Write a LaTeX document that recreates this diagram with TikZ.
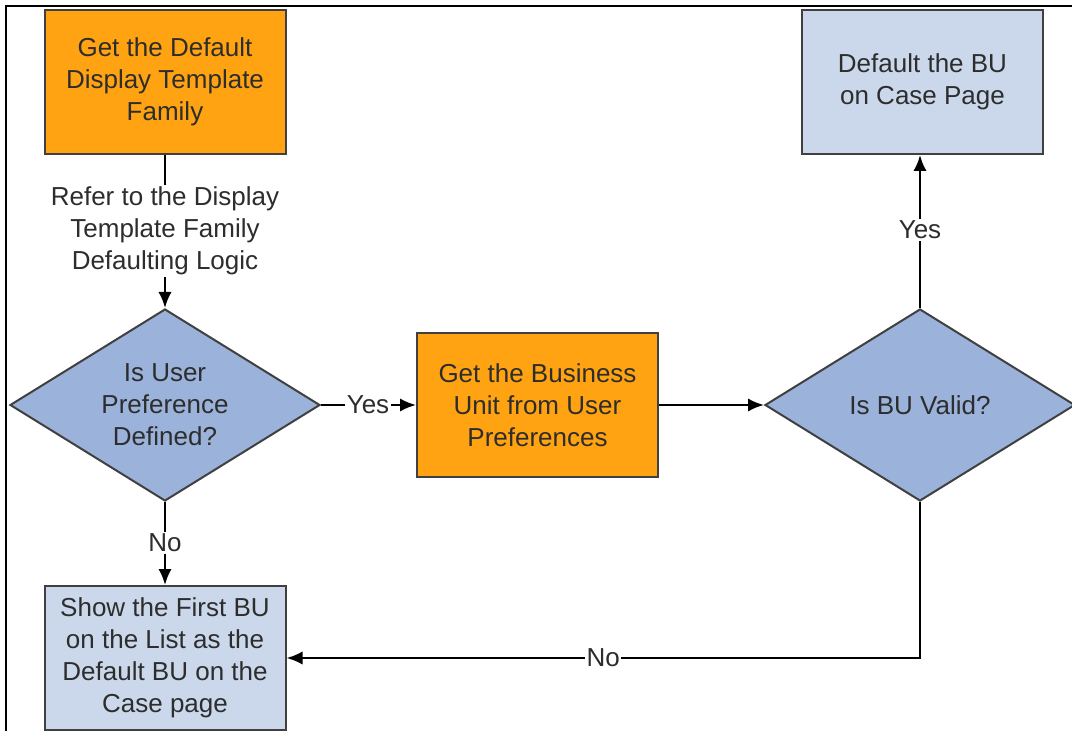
\documentclass[tikz,border=0pt]{standalone}
\usepackage{fontspec}
\setmainfont{Liberation Sans}
\usetikzlibrary{shapes.geometric,arrows.meta}
\definecolor{orangefill}{RGB}{255,163,18}
\definecolor{lightbox}{RGB}{203,216,235}
\definecolor{diafill}{RGB}{155,178,218}
\definecolor{edgegray}{RGB}{64,64,64}
\definecolor{textgray}{RGB}{45,45,45}
\begin{document}
\begin{tikzpicture}[x=0.75pt,y=-0.75pt,
  every node/.style={font=\fontsize{19.5}{24}\selectfont, text=textgray, align=center},
  box/.style={draw=edgegray, line width=1.5pt, minimum width=180.75pt, minimum height=108pt, inner sep=2pt},
  orangebox/.style={box, fill=orangefill},
  bluebox/.style={box, fill=lightbox},
  decision/.style={diamond, draw=edgegray, line width=1.5pt, fill=diafill, aspect=1.6, inner sep=0pt, minimum width=232.5pt, minimum height=144pt},
  lbl/.style={inner sep=1pt},
  conn/.style={line width=1.9pt, draw=black},
  arr/.style={conn, -{Latex[length=12pt,width=10pt]}}
]
\useasboundingbox (0,0) rectangle (1072,731);
\fill[white] (0,0) rectangle (1072,731);
\draw[line width=1.2pt] (6,731) -- (6,6) -- (1072,6);

\node[orangebox] (b1) at (165,82) {Get the Default\\Display Template\\Family};
\node[lbl] (refer) at (165,231) {Refer to the Display\\Template Family\\Defaulting Logic};
\node[decision] (d1) at (165,405) {Is User\\Preference\\Defined?};
\node[orangebox] (b2) at (537.5,405) {Get the Business\\Unit from User\\Preferences};
\node[decision] (d2) at (920,405) {Is BU Valid?};
\node[bluebox] (b3) at (922.5,82) {Default the BU\\on Case Page};
\node[bluebox] (b4) at (165,658) {Show the First BU\\on the List as the\\Default BU on the\\Case page};

\node[lbl] (yes1) at (368,405) {Yes};
\node[lbl] (no1) at (165,543) {No};
\node[lbl] (yes2) at (920,230) {Yes};

\draw[conn] (b1.south) -- (refer.north);
\draw[arr] (refer.south) -- (d1.north);
\draw[conn] (d1.east) -- (yes1.west);
\draw[arr] (yes1.east) -- (b2.west);
\draw[arr] (b2.east) -- (d2.west);
\draw[conn] (d2.north) -- (yes2.south);
\draw[arr] (yes2.north) -- (yes2.north |- b3.south);
\draw[conn] (d1.south) -- (no1.north);
\draw[arr] (no1.south) -- (b4.north);
\draw[arr] (d2.south) |- node[pos=0.75, fill=white, lbl] {No} (b4.east);
\end{tikzpicture}
\end{document}
